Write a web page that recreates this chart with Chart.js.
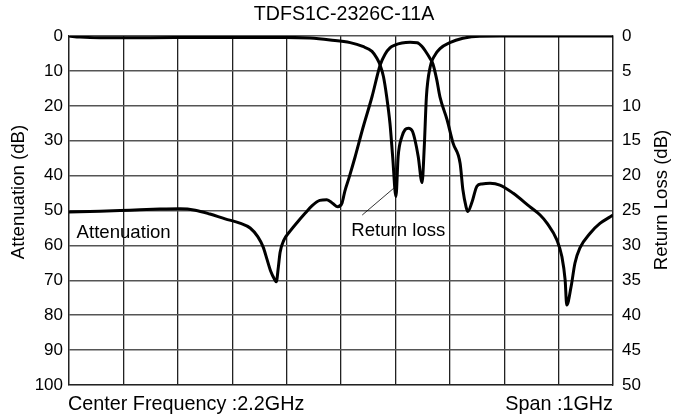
<!DOCTYPE html>
<html>
<head>
<meta charset="utf-8">
<script src="https://cdn.jsdelivr.net/npm/chart.js@4/dist/chart.umd.min.js"></script>
<style>
  html, body { margin: 0; padding: 0; background: #fff; }
  #wrap { width: 688px; height: 420px; }
</style>
</head>
<body>
<div id="wrap"><canvas id="c" width="688" height="420"></canvas></div>
<script>
// ---- data (frequency in MHz) ----
const titleText = "TDFS1C-2326C-11A";
const leftAxisTitle = "Attenuation (dB)";
const rightAxisTitle = "Return Loss (dB)";
const bottomLeftText = "Center Frequency :2.2GHz";
const bottomRightText = "Span :1GHz";

const attFreq = [1700,1757,1812,1867,1904,1932,1959,1987,2014,2033,2047,2057,2064,2071,2077,2081,2085,2088,2095,2106,2119,2134,2147,2161,2174,2185,2194,2202,2207,2215,2226,2240,2257,2272,2281,2290,2299,2312,2327,2340,2349,2356,2364,2369,2376,2382,2395,2406,2419,2424,2430,2433,2441,2450,2459,2474,2492,2516,2547,2566,2579,2597,2606,2612,2615,2623,2630,2639,2658,2676,2695,2700];
const attValues = [50.4,50.2,49.9,49.6,49.5,49.9,51.0,52.4,53.6,55.0,57.5,60.5,64,67.5,69.5,70.4,66,62,58.5,56,53.5,50.8,48.6,47.1,46.9,48.0,48.9,47.8,44.5,40.5,34.6,26.5,17.4,8.3,5.2,3.4,2.6,2.0,1.8,1.9,3.0,4.5,6.5,8.0,12.5,17.5,24,30.7,36.5,44,49,50.3,47.5,43,42.4,42.2,42.7,45,48.9,51.3,53.7,58.5,63.2,69.9,77.1,71.8,65.1,60.8,56.5,53.7,51.8,51.3];

const rlFreq = [1700,1720,1757,1849,1941,2033,2099,2143,2180,2217,2240,2257,2266,2272,2278,2284,2290,2295,2301,2305,2312,2318,2324,2331,2336,2342,2349,2353,2357,2364,2373,2382,2400,2424,2455,2492,2700];
const rlValues = [0.0,0.15,0.25,0.25,0.2,0.2,0.2,0.3,0.57,0.95,1.5,2.2,3.2,4.2,5.8,8.7,12.5,17.3,23.0,17.3,14.4,13.4,13.2,13.6,14.9,17.3,21.0,16,8.7,4.4,2.7,1.8,0.95,0.33,0.02,0,0];

const leaderFreq = [2239, 2297];
const leaderAtt = [51.3, 43.6];

const labelTexts = ["Attenuation", "Return loss"];
const labelFreq = [1714, 2219];
const labelAtt = [58.0, 57.3];

const xMin = 1700, xMax = 2700, xStep = 100;
const attMin = 0, attMax = 100, attStep = 10;
const rlMin = 0, rlMax = 50, rlStep = 5;

// ---- build ----
const toPts = (xs, ys) => xs.map((x, i) => ({x: x, y: ys[i]}));
const FONT = "'Liberation Sans', Arial, Helvetica, sans-serif";
Chart.defaults.font.family = FONT;
Chart.defaults.color = '#000';

const textPlugin = {
  id: 'texts',
  afterDraw(chart) {
    const ctx = chart.ctx;
    const xs = chart.scales.x, ys = chart.scales.y;
    const a = chart.chartArea;
    ctx.save();
    ctx.fillStyle = '#000';
    // in-plot labels
    ctx.font = "18.6px " + FONT;
    ctx.textBaseline = 'alphabetic';
    ctx.textAlign = 'left';
    labelTexts.forEach((t, i) => {
      ctx.fillText(t, xs.getPixelForValue(labelFreq[i]), ys.getPixelForValue(labelAtt[i]));
    });
    // bottom texts
    ctx.font = "19.8px " + FONT;
    ctx.textAlign = 'left';
    ctx.fillText(bottomLeftText, a.left - 1, a.bottom + 25);
    ctx.textAlign = 'right';
    ctx.fillText(bottomRightText, a.right, a.bottom + 25);
    // axis titles, both reading bottom-to-top
    ctx.font = "18.6px " + FONT;
    ctx.textAlign = 'center';
    ctx.textBaseline = 'middle';
    ctx.save();
    ctx.translate(19, 192);
    ctx.rotate(-Math.PI / 2);
    ctx.fillText(leftAxisTitle, 0, 0);
    ctx.restore();
    ctx.save();
    ctx.translate(662, 200);
    ctx.rotate(-Math.PI / 2);
    ctx.fillText(rightAxisTitle, 0, 0);
    ctx.restore();
    ctx.restore();
  }
};

new Chart(document.getElementById('c'), {
  type: 'line',
  data: {
    datasets: [
      { label: 'Attenuation', data: toPts(attFreq, attValues), yAxisID: 'y',
        borderColor: '#000', borderWidth: 3, pointRadius: 0, cubicInterpolationMode: 'monotone', fill: false },
      { label: 'Return loss', data: toPts(rlFreq, rlValues), yAxisID: 'y2',
        borderColor: '#000', borderWidth: 3, pointRadius: 0, cubicInterpolationMode: 'monotone', fill: false },
      { label: 'leader', data: toPts(leaderFreq, leaderAtt), yAxisID: 'y',
        borderColor: '#000', borderWidth: 0.8, pointRadius: 0, tension: 0, fill: false }
    ]
  },
  options: {
    responsive: false,
    animation: false,
    devicePixelRatio: 1,
    layout: { padding: 0 },
    plugins: {
      legend: { display: false },
      tooltip: { enabled: false },
      title: { display: true, text: titleText, font: { size: 19.6, weight: 'normal' },
               color: '#000', padding: { top: 3, bottom: 9.5 } }
    },
    scales: {
      x: {
        type: 'linear', min: xMin, max: xMax,
        ticks: { display: false, stepSize: xStep },
        grid: { color: '#222', lineWidth: 1.3, drawTicks: false },
        border: { display: true, color: '#222', width: 1.3 },
        afterFit(s) { s.height = 35; }
      },
      y: {
        position: 'left', reverse: true, min: attMin, max: attMax,
        ticks: { stepSize: attStep, padding: 6, font: { size: 17 }, color: '#000' },
        grid: { color: '#555', lineWidth: 1.6, drawTicks: false },
        border: { display: true, color: '#222', width: 1.3 },
        afterFit(s) { s.width = 69; }
      },
      y2: {
        position: 'right', reverse: true, min: rlMin, max: rlMax,
        ticks: { stepSize: rlStep, padding: 9, font: { size: 17 }, color: '#000' },
        grid: { display: false, drawTicks: false },
        border: { display: true, color: '#222', width: 1.3 },
        afterFit(s) { s.width = 75; }
      }
    }
  },
  plugins: [textPlugin]
});
</script>
</body>
</html>
